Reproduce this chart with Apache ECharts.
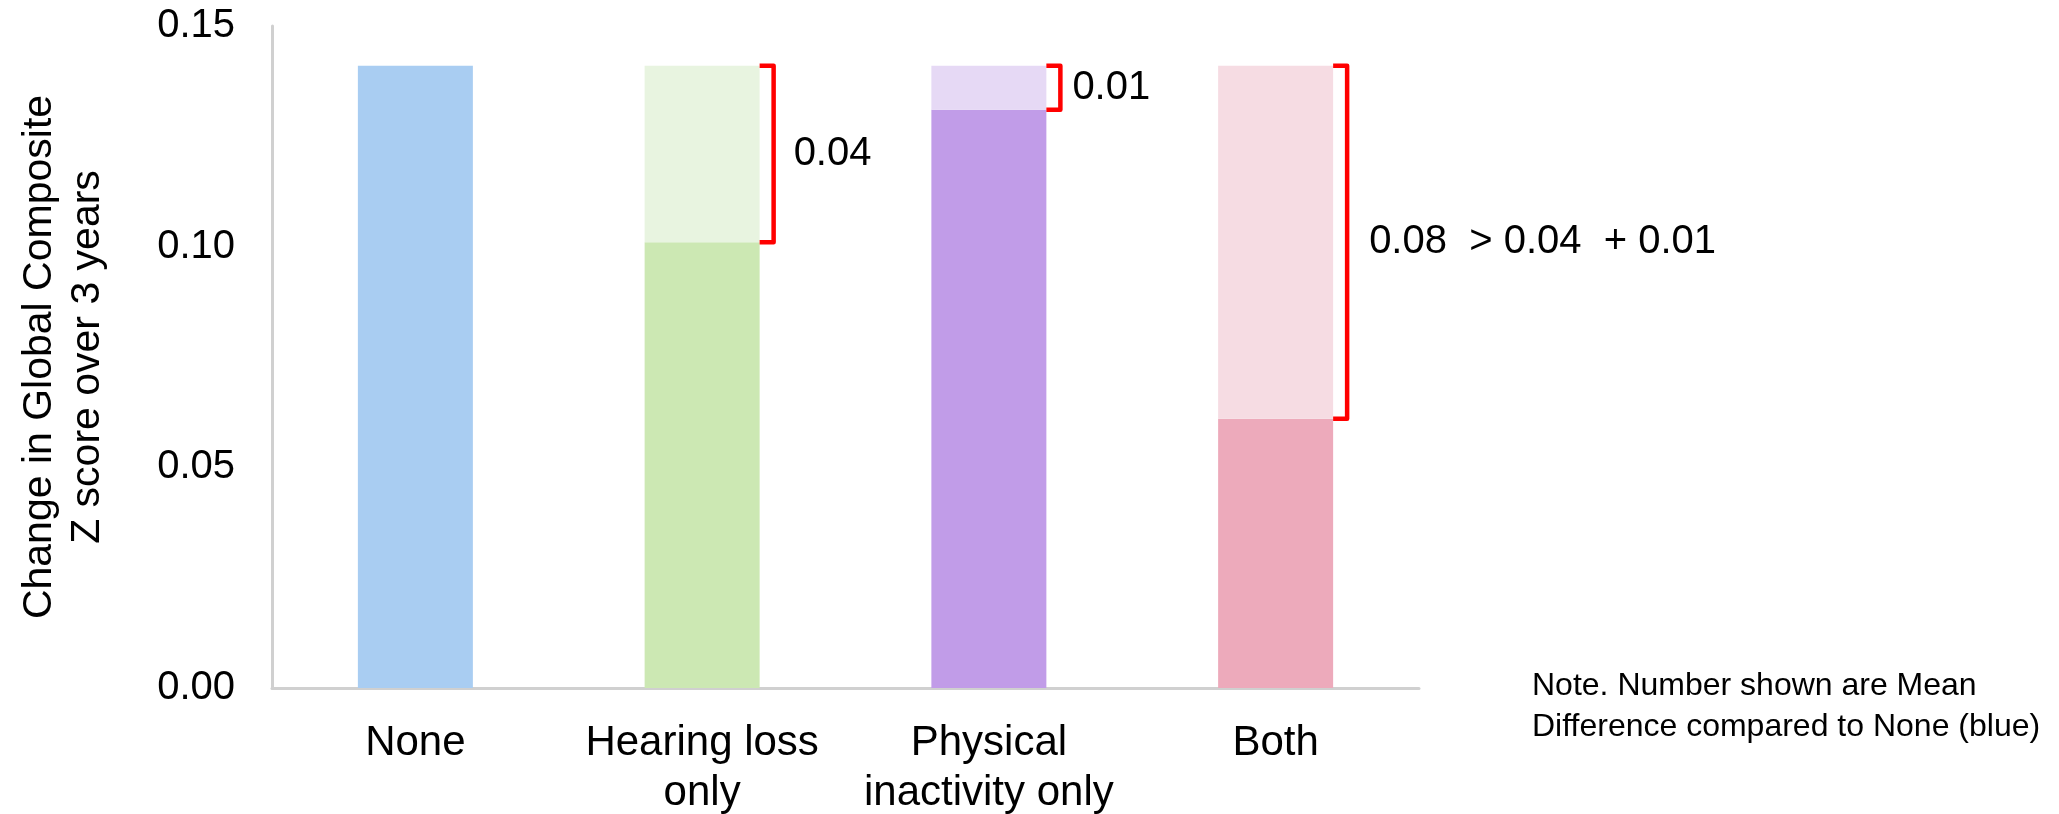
<!DOCTYPE html>
<html>
<head>
<meta charset="utf-8">
<script src="https://cdn.jsdelivr.net/npm/echarts@6/dist/echarts.min.js"></script>
<style>
  html, body { margin: 0; padding: 0; background: #ffffff; }
  #chart { width: 2059px; height: 814px; }
</style>
</head>
<body>
<div id="chart"></div>
<script>
// Groups compared
const categories = ['None', 'Hearing loss\nonly', 'Physical\ninactivity only', 'Both'];
// Change in composite score for the reference group (None)
const noneScore = 0.141;
// Mean difference of each group compared to None
const meanDifference = [0, 0.04, 0.01, 0.08];
// Bracket captions
const bracketLabels = ['', '0.04', '0.01', '0.08  > 0.04  + 0.01'];
// Y axis ticks
const yMin = 0, yMax = 0.15, yStep = 0.05;

// Palette: solid part and the paler "gap" part of each bar
const solidColors = ['#A9CDF2', '#CCE8B3', '#C19CE8', '#EDAABB'];
const gapColors = ['#A9CDF2', '#E8F4E0', '#E6D9F5', '#F6DCE3'];
// Space between each bracket and its caption
const captionGap = [0, 20, 12, 22];

const FONT = "'Liberation Sans', Arial, Helvetica, sans-serif";
const BAR_W = 115;

const groupScore = meanDifference.map(d => +(noneScore - d).toFixed(4));

const solidData = groupScore.map((v, i) => ({ value: v, itemStyle: { color: solidColors[i] } }));
const gapData = meanDifference.map((d, i) => ({ value: d, itemStyle: { color: gapColors[i] } }));
const bracketData = meanDifference
  .map((d, i) => [i, noneScore, groupScore[i]])
  .filter(r => meanDifference[r[0]] > 0);

const chart = echarts.init(document.getElementById('chart'), null, { renderer: 'canvas' });

chart.setOption({
  backgroundColor: '#ffffff',
  animation: false,
  grid: {
    left: 272, right: 640, top: 26, bottom: 126,
    containLabel: false, outerBoundsMode: 'none'
  },
  xAxis: {
    type: 'category',
    data: categories,
    axisLine: { show: true, lineStyle: { color: '#D0D0D0', width: 3 } },
    axisTick: { show: false },
    axisLabel: {
      color: '#000000', fontSize: 42, fontFamily: FONT,
      lineHeight: 50, margin: 30, interval: 0
    }
  },
  yAxis: {
    type: 'value',
    min: yMin, max: yMax, interval: yStep,
    axisLine: { show: true, lineStyle: { color: '#D0D0D0', width: 3 } },
    axisTick: { show: false },
    splitLine: { show: false },
    axisLabel: {
      color: '#000000', fontSize: 40, fontFamily: FONT, margin: 37,
      formatter: v => v.toFixed(2)
    }
  },
  series: [
    {
      type: 'bar', stack: 'score', data: solidData,
      barWidth: BAR_W, silent: true
    },
    {
      type: 'bar', stack: 'score', data: gapData,
      barWidth: BAR_W, silent: true
    },
    {
      type: 'custom',
      data: bracketData,
      z: 5,
      silent: true,
      encode: { x: 0, y: [1, 2] },
      renderItem: function (params, api) {
        const idx = api.value(0);
        const top = api.coord([idx, api.value(1)]);
        const bot = api.coord([idx, api.value(2)]);
        const xr = top[0] + BAR_W / 2;
        const xb = xr + 14;
        return {
          type: 'group',
          children: [
            {
              type: 'polyline',
              shape: { points: [[xr, top[1]], [xb, top[1]], [xb, bot[1]], [xr, bot[1]]] },
              style: { stroke: '#FF0000', lineWidth: 4.5, fill: null, lineJoin: 'round', lineCap: 'butt' }
            },
            {
              type: 'text',
              x: xb + captionGap[idx],
              y: (top[1] + bot[1]) / 2,
              style: {
                text: bracketLabels[idx], fill: '#000000',
                fontSize: 40, fontFamily: FONT,
                align: 'left', verticalAlign: 'middle',
                textAlign: 'left', textVerticalAlign: 'middle'
              }
            }
          ]
        };
      }
    }
  ],
  graphic: [
    {
      type: 'text',
      x: 64, y: 357,
      rotation: Math.PI / 2,
      style: {
        text: 'Change in Global Composite\nZ score over 3 years',
        fill: '#000000', fontSize: 41, fontFamily: FONT,
        lineHeight: 48,
        align: 'center', verticalAlign: 'middle',
        textAlign: 'center', textVerticalAlign: 'middle'
      }
    },
    {
      type: 'text',
      x: 1532, y: 666,
      style: {
        text: 'Note. Number shown are Mean\nDifference compared to None (blue)',
        fill: '#000000', fontSize: 32, fontFamily: FONT,
        lineHeight: 41,
        align: 'left', verticalAlign: 'top',
        textAlign: 'left', textVerticalAlign: 'top'
      }
    }
  ]
});
</script>
</body>
</html>
